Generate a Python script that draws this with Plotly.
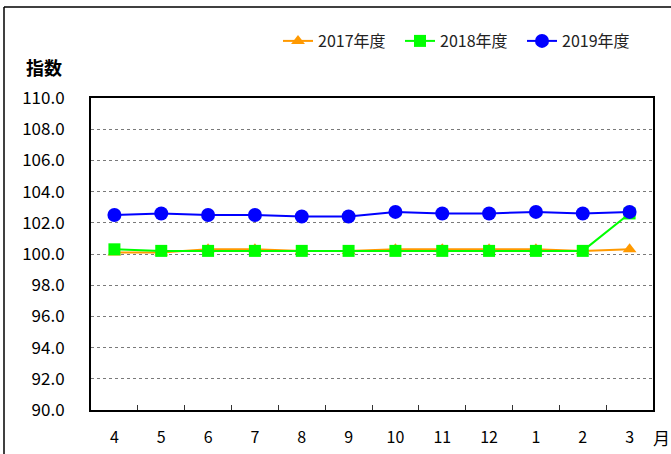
import plotly.graph_objects as go

months = ["4", "5", "6", "7", "8", "9", "10", "11", "12", "1", "2", "3"]
fy2017 = [100.1, 100.1, 100.3, 100.3, 100.2, 100.2, 100.3, 100.3, 100.3, 100.3, 100.2, 100.3]
fy2018 = [100.3, 100.2, 100.2, 100.2, 100.2, 100.2, 100.2, 100.2, 100.2, 100.2, 100.2, 102.6]
fy2019 = [102.5, 102.6, 102.5, 102.5, 102.4, 102.4, 102.7, 102.6, 102.6, 102.7, 102.6, 102.7]
names = ["2017年度", "2018年度", "2019年度"]

W, H = 671, 454
L, R, T, B = 91, 653, 98, 410
font = "Liberation Sans Narrow, Noto Sans CJK JP"

fig = go.Figure()
fig.add_trace(go.Scatter(x=months, y=fy2017, name=names[0], mode="lines+markers",
                         line=dict(color="#FF9900", width=2),
                         marker=dict(symbol="triangle-up", size=12, color="#FF9900")))
fig.add_trace(go.Scatter(x=months, y=fy2018, name=names[1], mode="lines+markers",
                         line=dict(color="#00FF00", width=2),
                         marker=dict(symbol="square", size=12, color="#00FF00")))
fig.add_trace(go.Scatter(x=months, y=fy2019, name=names[2], mode="lines+markers",
                         line=dict(color="#0000FF", width=2),
                         marker=dict(symbol="circle", size=14, color="#0000FF")))

pw, ph = R - L, B - T
def px(x): return (x - L) / pw
def py(y): return (B - y) / ph

fig.update_layout(
    width=W, height=H,
    margin=dict(l=L, r=W - R, t=T, b=H - B, autoexpand=False),
    paper_bgcolor="white", plot_bgcolor="white",
    font=dict(family=font, size=15, color="black"),
    showlegend=True,
    legend=dict(orientation="h", x=px(644), xanchor="right", y=py(41), yanchor="middle",
                font=dict(size=16, color="#222"), traceorder="normal", entrywidth=77,
                bgcolor="rgba(0,0,0,0)"),
    xaxis=dict(type="category", range=[-0.5, len(months) - 0.5],
               showline=True, linecolor="black", linewidth=2, mirror=True,
               ticks="inside", tickson="boundaries", ticklen=5, tickcolor="#333",
               showgrid=False, ticklabelstandoff=12, tickfont=dict(size=16)),
    yaxis=dict(range=[90, 110], dtick=2, tickformat=".1f", showline=True, linecolor="black",
               linewidth=2, mirror=True, ticks="", showgrid=True, gridcolor="#7a7a7a",
               griddash="dot", gridwidth=1, ticklabelstandoff=21, tickfont=dict(size=17),
               zeroline=False),
    shapes=[
        dict(type="line", xref="paper", yref="paper", x0=px(4), x1=px(4), y0=py(7), y1=py(470),
             line=dict(color="black", width=1.5)),
        dict(type="line", xref="paper", yref="paper", x0=px(4), x1=px(700), y0=py(7), y1=py(7),
             line=dict(color="black", width=1.5)),
    ],
    annotations=[
        dict(text="<b>指数</b>", xref="paper", yref="paper", x=px(24), y=py(67),
             xanchor="left", yanchor="middle", showarrow=False,
             font=dict(size=18, family="Noto Sans CJK JP")),
        dict(text="月", xref="paper", yref="paper", x=px(661), y=py(437),
             xanchor="center", yanchor="middle", showarrow=False,
             font=dict(size=17, family="Noto Sans CJK JP")),
    ],
)

fig.write_html("out.html", config={"displayModeBar": False},
               post_script="document.body.style.margin='0';")
